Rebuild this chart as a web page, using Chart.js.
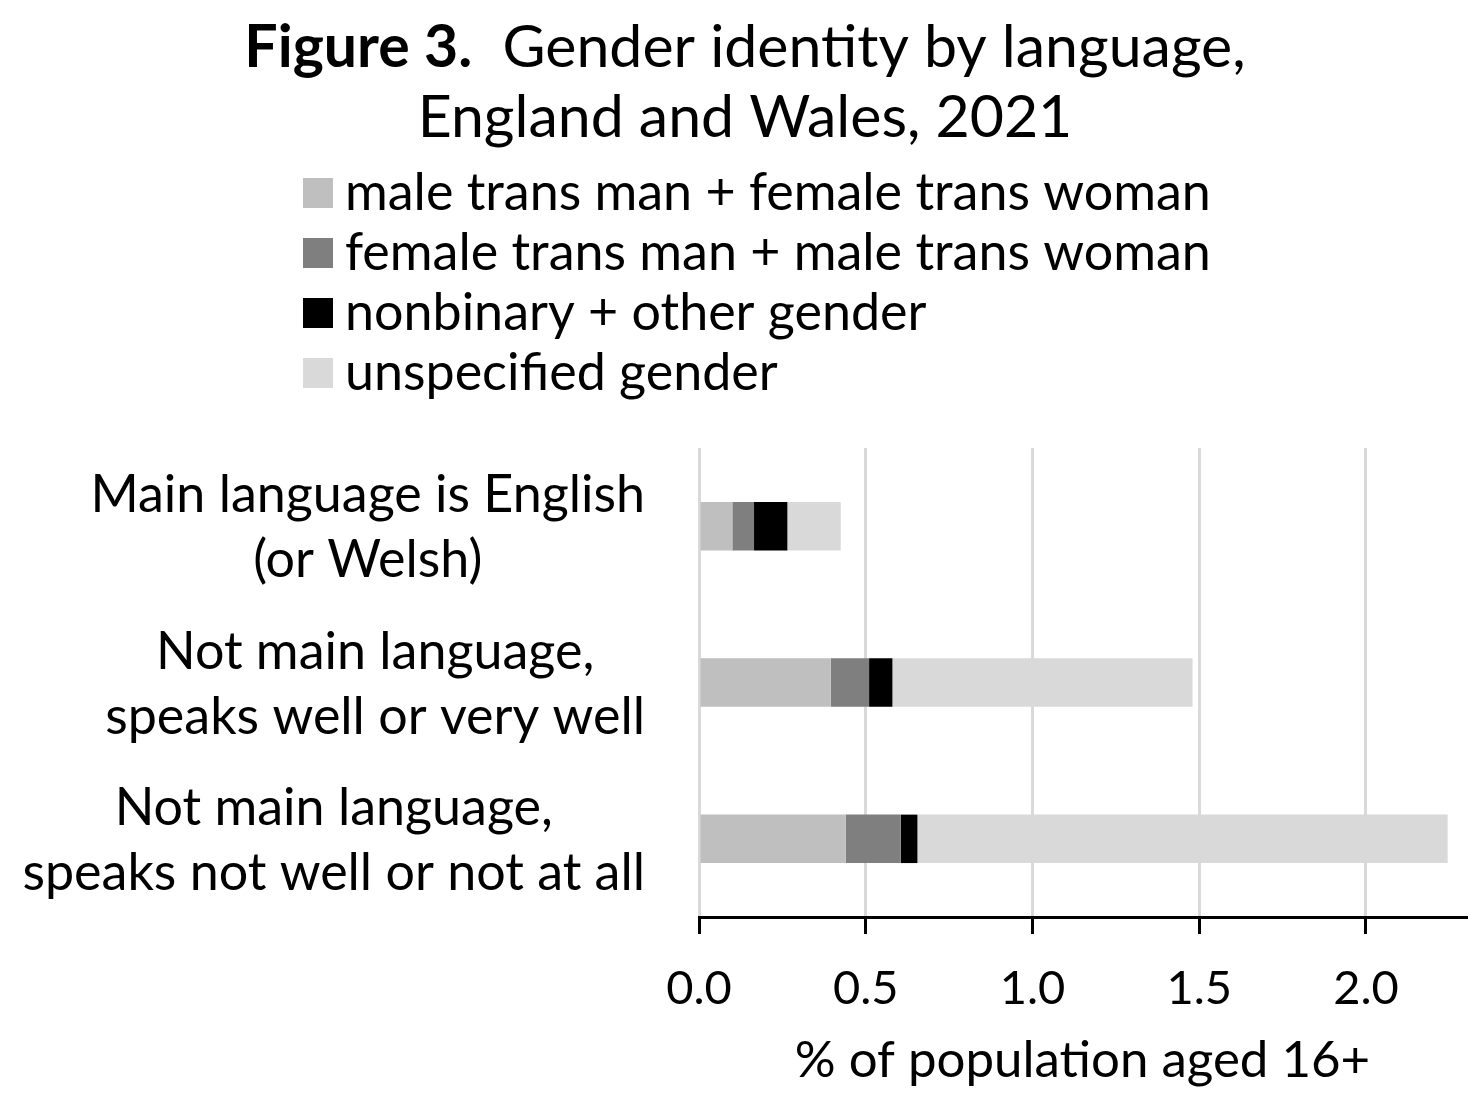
<!DOCTYPE html>
<html>
<head>
<meta charset="utf-8">
<script src="https://cdn.jsdelivr.net/npm/chart.js@4/dist/chart.umd.min.js"></script>
<style>
  html, body { margin: 0; padding: 0; background: #fff; }
  #wrap { width: 1473px; height: 1115px; position: relative; }
</style>
</head>
<body>
<div id="wrap"><canvas id="gender-chart"></canvas></div>
<script>
const categories = [
	["Main language is English", "(or Welsh)"],
	["Not main language,", "speaks well or very well"],
	["Not main language,", "speaks not well or not at all"],
];
const seriesNames = [
	"male trans man + female trans woman",
	"female trans man + male trans woman",
	"nonbinary + other gender",
	"unspecified gender",
];
const transBirthSex = [0.10, 0.395, 0.44];
const transOppositeSex = [0.065, 0.115, 0.165];
const nonbinaryOther = [0.10, 0.07, 0.05];
const unspecifiedGender = [0.16, 0.90, 1.59];
const xTicks = [0, 0.5, 1.0, 1.5, 2.0];
const xMax = 2.3;

const colors = ["#bfbfbf", "#7f7f7f", "#000000", "#d9d9d9"];
const FONT = "Lato, 'Open Sans', sans-serif";

// title, legend and the centred two-line category labels
const decorations = {
	id: "decorations",
	afterDraw(chart) {
		const c = chart.ctx;
		c.save();
		c.fillStyle = "#000";
		c.textBaseline = "middle";

		// title
		const bold = "bold 59px " + FONT;
		const normal = "59px " + FONT;
		const part1 = "Figure 3.";
		const part2 = "  Gender identity by language,";
		c.font = bold;
		const w1 = c.measureText(part1).width;
		c.font = normal;
		const w2 = c.measureText(part2).width;
		let x = 745 - (w1 + w2) / 2;
		c.textAlign = "left";
		c.font = bold;
		c.fillText(part1, x, 48);
		c.font = normal;
		c.fillText(part2, x + w1, 48);
		c.textAlign = "center";
		c.fillText("England and Wales, 2021", 745, 118);

		// legend
		c.font = "52px " + FONT;
		c.textAlign = "left";
		chart.data.datasets.forEach((ds, i) => {
			const y = 193 + i * 60;
			c.fillStyle = ds.backgroundColor;
			c.fillRect(303, y - 15, 30, 30);
			c.fillStyle = "#000";
			c.fillText(ds.label, 345, y);
		});

		// category labels: block right-aligned, lines centred
		const yScale = chart.scales.y;
		const right = 645;
		c.font = "52px " + FONT;
		c.textAlign = "center";
		categories.forEach((lines, i) => {
			const widths = lines.map(l => c.measureText(l).width);
			const cx = right - Math.max(...widths) / 2;
			const yc = yScale.getPixelForTick(i) + 2;
			lines.forEach((l, j) => {
				c.fillText(l, cx, yc + (j - (lines.length - 1) / 2) * 65);
			});
		});
		c.restore();
	},
};

const series = [transBirthSex, transOppositeSex, nonbinaryOther, unspecifiedGender];

const ctx = document.getElementById("gender-chart").getContext("2d");
const myChart = new Chart(ctx, {
	type: "bar",
	data: {
		labels: categories,
		datasets: series.map((d, i) => ({
			label: seriesNames[i],
			data: d,
			backgroundColor: colors[i],
			borderWidth: 0,
			barPercentage: 0.31,
			categoryPercentage: 1,
		})),
	},
	options: {
		indexAxis: "y",
		responsive: true,
		maintainAspectRatio: false,
		animation: false,
		layout: {
			padding: { left: 0, right: 7, top: 448, bottom: 24 },
		},
		scales: {
			x: {
				stacked: true,
				min: 0,
				max: xMax,
				afterBuildTicks: (s) => {
					s.ticks = xTicks.map(v => ({ value: v }));
				},
				afterFit: (s) => { s.height = 174; },
				grid: {
					color: "#d9d9d9",
					lineWidth: 3,
					tickColor: "#000",
					tickLength: 17,
					tickWidth: 3,
				},
				border: { display: true, color: "#000", width: 3 },
				ticks: {
					color: "#000",
					padding: 27,
					font: { family: FONT, size: 47 },
					callback: (v) => Number(v).toFixed(1),
				},
				title: {
					display: true,
					text: "% of population aged 16+",
					color: "#000",
					font: { family: FONT, size: 51 },
					padding: { top: 0, bottom: 0 },
				},
			},
			y: {
				stacked: true,
				afterFit: (s) => { s.width = 699; },
				grid: { display: false },
				border: { display: false },
				ticks: { display: false },
			},
		},
		plugins: {
			legend: { display: false },
			tooltip: { enabled: false },
		},
	},
	plugins: [decorations],
});
</script>
</body>
</html>
